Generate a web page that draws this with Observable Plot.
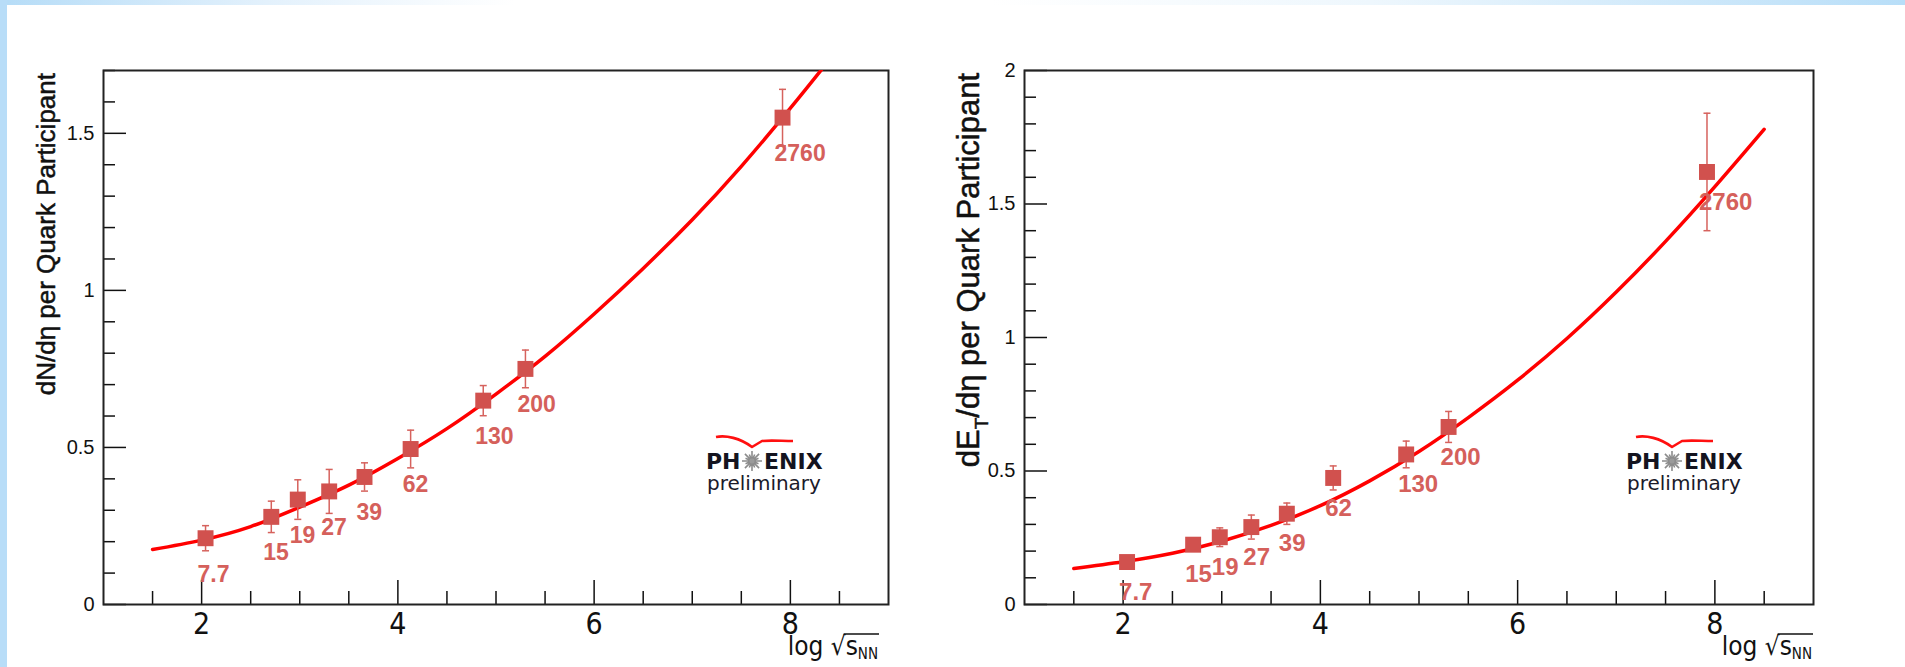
<!DOCTYPE html>
<html><head><meta charset="utf-8">
<script src="https://cdn.jsdelivr.net/npm/d3@7"></script>
<script src="https://cdn.jsdelivr.net/npm/@observablehq/plot@0.6"></script>
<style>
body{margin:0;background:#fff;}
#wrap{position:relative;width:1905px;height:667px;overflow:hidden;background:#fff;}
#topband{position:absolute;left:0;top:0;width:1905px;height:5px;background:linear-gradient(to right,#b5dcf7 0%,#e3f1fc 14%,#fff 27%,#fff 52%,#eef7fd 72%,#b8def8 100%);}
#leftband{position:absolute;left:0;top:0;width:7px;height:667px;background:#b8ddf8;}
.panel{position:absolute;top:0;}
</style></head><body><div id="wrap"><div id="topband"></div><div id="leftband"></div></div>
<script>
// ---- data ----
const energies = ["7.7", "15", "19", "27", "39", "62", "130", "200", "2760"];
const logSqrtS = [2.04, 2.71, 2.98, 3.30, 3.66, 4.13, 4.87, 5.30, 7.92];
const dNdEta    = [0.211, 0.279, 0.334, 0.360, 0.406, 0.495, 0.649, 0.750, 1.550];
const dNdEtaErr = [0.040, 0.050, 0.063, 0.070, 0.045, 0.060, 0.048, 0.060, 0.090];
const dETdEta    = [0.159, 0.224, 0.252, 0.290, 0.340, 0.474, 0.562, 0.665, 1.620];
const dETdEtaErr = [0.008, 0.010, 0.035, 0.045, 0.040, 0.045, 0.050, 0.058, 0.220];
const fitNx = [1.5, 2, 2.5, 3, 3.5, 4, 4.5, 5, 5.5, 6, 6.5, 7, 7.5, 8, 8.4];
const fitNy = [0.175, 0.205, 0.248, 0.310, 0.380, 0.465, 0.560, 0.670, 0.790, 0.925, 1.070, 1.225, 1.395, 1.580, 1.735];
const fitEx = [1.5, 2, 2.5, 3, 3.5, 4, 4.5, 5, 5.5, 6, 6.5, 7, 7.5, 8, 8.5];
const fitEy = [0.135, 0.160, 0.192, 0.237, 0.296, 0.370, 0.463, 0.573, 0.700, 0.840, 0.996, 1.170, 1.360, 1.565, 1.780];
const xMajorTicks = [2, 4, 6, 8];
const xMinorTicks = [1.5, 2.5, 3, 3.5, 4.5, 5, 5.5, 6.5, 7, 7.5, 8.5];
const yMajorN = [0, 0.5, 1, 1.5];
const yMinorN = [0.1, 0.2, 0.3, 0.4, 0.6, 0.7, 0.8, 0.9, 1.1, 1.2, 1.3, 1.4, 1.6, 1.7];
const yMajorE = [0, 0.5, 1, 1.5, 2];
const yMinorE = [0.1, 0.2, 0.3, 0.4, 0.6, 0.7, 0.8, 0.9, 1.1, 1.2, 1.3, 1.4, 1.6, 1.7, 1.8, 1.9];

const MARK = "#d1514e", LABEL = "#d5605b", ERR = "#d6625d";
const NARROW = "'Liberation Sans Narrow','DejaVu Sans Condensed','Liberation Sans',sans-serif";
const SANS = "'Liberation Sans',Arial,sans-serif";
const DEJA = "'DejaVu Sans',sans-serif";

const capSymbol = {draw(ctx, size) { const w = Math.sqrt(size / Math.PI); ctx.moveTo(-w, 0); ctx.lineTo(w, 0); }};

function panel(o) {
  const H = 667, mT = 70, mB = 63;
  const fh = H - mT - mB, fw = o.width - o.mL - o.mR;
  const pts = logSqrtS.map((x, i) => ({x, y: o.vals[i], e: o.errs[i], lab: energies[i]}));
  const fit = o.fx.map((x, i) => ({x, y: o.fy[i]}));
  const svg = Plot.plot({
    width: o.width, height: H,
    marginLeft: o.mL, marginRight: o.mR, marginTop: mT, marginBottom: mB,
    x: {domain: [1, 9], axis: null},
    y: {domain: o.yDomain, axis: null},
    style: {background: "transparent", fontFamily: SANS, overflow: "visible"},
    marks: [
      Plot.ruleX(xMajorTicks, {x: d => d, insetTop: fh - 24, stroke: "#111", strokeWidth: 1.5}),
      Plot.ruleX(xMinorTicks, {x: d => d, insetTop: fh - 13, stroke: "#111", strokeWidth: 1.5}),
      Plot.ruleY(o.yMajor, {y: d => d, insetRight: fw - 23, stroke: "#111", strokeWidth: 1.5}),
      Plot.ruleY(o.yMinor, {y: d => d, insetRight: fw - 12, stroke: "#111", strokeWidth: 1.5}),
      Plot.text(xMajorTicks, {x: d => d, text: d => String(d), frameAnchor: "bottom", lineAnchor: "top", dy: 8, fontSize: 30, fontFamily: NARROW, fill: "#111"}),
      Plot.text(o.yMajor, {y: d => d, text: d => String(d), frameAnchor: "left", textAnchor: "end", dx: -9, fontSize: 20, fontFamily: SANS, fill: "#111"}),
      Plot.frame({stroke: "#222", strokeWidth: 2}),
      Plot.line(fit, {x: "x", y: "y", stroke: "#ff0000", strokeWidth: 3.5, curve: "natural", clip: true, strokeLinecap: "round"}),
      Plot.ruleX(pts, {x: "x", y1: d => d.y - d.e, y2: d => d.y + d.e, stroke: ERR, strokeWidth: 1.5}),
      Plot.dot(pts, {x: "x", y: d => d.y + d.e, symbol: capSymbol, r: 3.5, stroke: ERR, strokeWidth: 1.5, fill: "none"}),
      Plot.dot(pts, {x: "x", y: d => d.y - d.e, symbol: capSymbol, r: 3.5, stroke: ERR, strokeWidth: 1.5, fill: "none"}),
      Plot.dot(pts, {x: "x", y: "y", symbol: "square", r: 9, fill: MARK, stroke: "none"}),
      Plot.text(pts, {x: "x", y: "y", text: "lab", textAnchor: "start", lineAnchor: "middle", dx: -8, dy: o.labelDy, fill: LABEL, fontWeight: "bold", fontSize: o.labelSize, fontFamily: SANS})
    ]
  });
  svg.classList.add("panel");
  svg.style.left = o.left + "px";
  document.getElementById("wrap").appendChild(svg);
  const fL = o.mL, fR = o.width - o.mR;
  addYTitle(svg, fL - o.titleGap, mT + 3, o.titleParts, o.titleSize);
  addXTitle(svg, fR - o.xTitleInset, 655);
  addLogo(svg, fR - o.logoInset, 469);
  return svg;
}

function addYTitle(svg, cx, top, parts, size) {
  const t = d3.select(svg).append("text")
    .attr("transform", `translate(${cx},${top}) rotate(-90)`)
    .attr("text-anchor", "end").attr("dy", "0.35em")
    .attr("font-family", SANS).attr("font-size", size).attr("fill", "#111")
    .attr("stroke", "#111").attr("stroke-width", 0.5);
  for (const p of parts) {
    const s = t.append("tspan").text(p.t);
    if (p.sub) s.attr("font-size", size * 0.62).attr("dy", size * 0.28);
    if (p.after) s.attr("dy", -size * 0.28);
  }
}

function addXTitle(svg, xEnd, yBase) {
  const t = d3.select(svg).append("text").attr("y", yBase).attr("x", 0)
    .attr("text-anchor", "start")
    .attr("font-family", NARROW).attr("font-size", 26).attr("fill", "#111");
  t.append("tspan").text("log ");
  t.append("tspan").text("\u221A");
  t.append("tspan").text("s");
  t.append("tspan").attr("font-size", 15).attr("dy", 4).text("NN");
  const w = t.node().getComputedTextLength();
  const x0 = xEnd - w;
  t.attr("x", x0);
  const p = t.node().getStartPositionOfChar(5);
  d3.select(svg).append("line").attr("x1", p.x - 2).attr("x2", x0 + w + 1)
    .attr("y1", yBase - 21).attr("y2", yBase - 21).attr("stroke", "#111").attr("stroke-width", 1.5);
}

function addLogo(svg, x0, yBase) {
  const g = d3.select(svg).append("g").attr("text-anchor", "start");
  g.append("path")
    .attr("d", `M${x0 + 10},${yBase - 32} C${x0 + 20},${yBase - 34} ${x0 + 34},${yBase - 31} ${x0 + 46},${yBase - 22} L${x0 + 56},${yBase - 28} C${x0 + 64},${yBase - 29} ${x0 + 76},${yBase - 28} ${x0 + 87},${yBase - 28}`)
    .attr("fill", "none").attr("stroke", "#ff1010").attr("stroke-width", 2.6).attr("stroke-linejoin", "round");
  g.append("text").attr("x", x0).attr("y", yBase).attr("font-family", DEJA)
    .attr("font-weight", "bold").attr("font-size", 22).attr("fill", "#141420").text("PH");
  // starburst between "PH" and "ENIX"
  const cx = x0 + 46, cy = yBase - 8;
  const spokes = d3.range(16).map(i => {
    const a = i * Math.PI / 8, r = i % 2 ? 7 : 10;
    return `M${cx + 2 * Math.cos(a)},${cy + 2 * Math.sin(a)}L${cx + r * Math.cos(a)},${cy + r * Math.sin(a)}`;
  }).join("");
  g.append("path").attr("d", spokes).attr("stroke", "#8c8c8c").attr("stroke-width", 1.6).attr("fill", "none");
  g.append("circle").attr("cx", cx).attr("cy", cy).attr("r", 2.5).attr("fill", "#9a9a9a");
  g.append("text").attr("x", x0 + 58).attr("y", yBase).attr("font-family", DEJA)
    .attr("font-weight", "bold").attr("font-size", 22).attr("fill", "#141420").text("ENIX");
  g.append("text").attr("x", x0 + 1).attr("y", yBase + 21).attr("font-family", DEJA)
    .attr("font-size", 20).attr("fill", "#1a1a2a").text("preliminary");
}

panel({
  left: 0, width: 900, mL: 103, mR: 12,
  yDomain: [0, 1.7], yMajor: yMajorN, yMinor: yMinorN,
  vals: dNdEta, errs: dNdEtaErr, fx: fitNx, fy: fitNy,
  labelDy: 36, labelSize: 23,
  titleParts: [{t: "dN/d\u03B7 per Quark Participant"}], titleSize: 26, titleGap: 57,
  xTitleInset: 10, logoInset: 182
});
panel({
  left: 940, width: 965, mL: 84, mR: 92,
  yDomain: [0, 2], yMajor: yMajorE, yMinor: yMinorE,
  vals: dETdEta, errs: dETdEtaErr, fx: fitEx, fy: fitEy,
  labelDy: 30, labelSize: 24,
  titleParts: [{t: "dE"}, {t: "T", sub: true}, {t: "/d\u03B7 per Quark Participant", after: true}], titleSize: 31, titleGap: 56,
  xTitleInset: 1, logoInset: 187
});
</script></body></html>
